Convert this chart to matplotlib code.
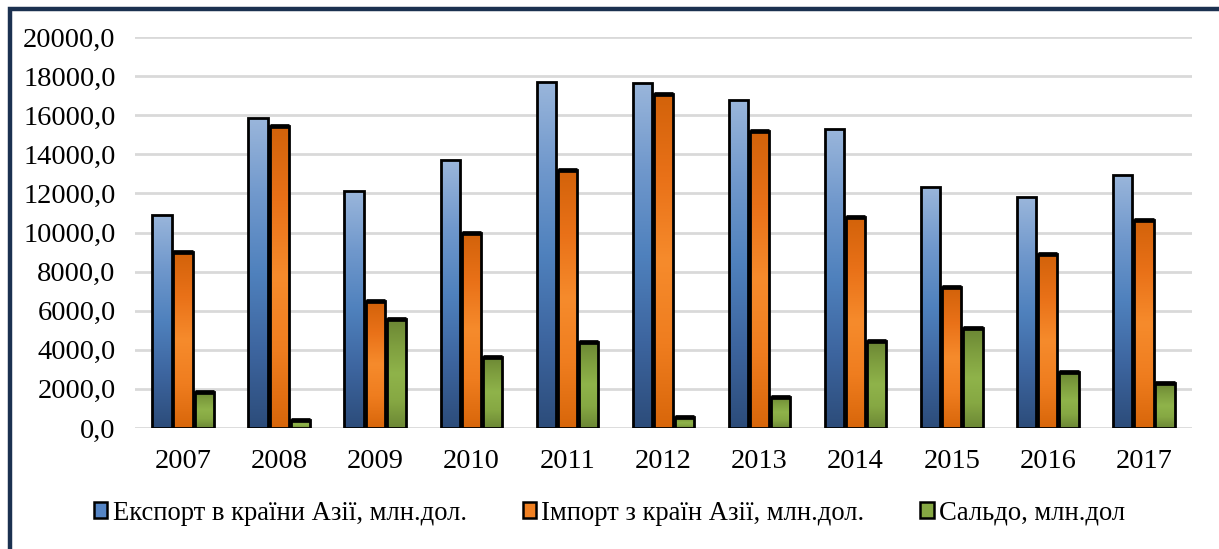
import numpy as np
import matplotlib
matplotlib.use("Agg")
import matplotlib.pyplot as plt
from matplotlib.colors import LinearSegmentedColormap
from matplotlib.patches import Patch, Rectangle
from matplotlib.ticker import FuncFormatter, MultipleLocator

# дані
years = ["2007", "2008", "2009", "2010", "2011", "2012", "2013", "2014", "2015", "2016", "2017"]
export_vals = [10900, 15850, 12100, 13700, 17700, 17650, 16800, 15300, 12350, 11800, 12950]
import_vals = [9000, 15450, 6500, 10000, 13200, 17100, 15200, 10800, 7200, 8900, 10650]
saldo_vals = [1850, 400, 5550, 3650, 4400, 550, 1600, 4450, 5100, 2850, 2300]
labels = ["Експорт в країни Азії, млн.дол.", "Імпорт з країн Азії, млн.дол.", "Сальдо, млн.дол"]

# градієнти (знизу вгору)
grad_blue = ["#2c4c7a", "#3d659f", "#4f81bd", "#7098cc", "#9ab6db"]
grad_orange = ["#d8660a", "#ef7d1f", "#f68b2c", "#e97118", "#d2620a"]
grad_green = ["#6c8735", "#86a843", "#8fb34a", "#7f9f3f", "#6b8634"]
mid_colors = ["#5585c5", "#f08022", "#86a843"]

plt.rcParams['font.family'] = ['Liberation Serif', 'DejaVu Serif']

fig = plt.figure(figsize=(12.19, 5.49), dpi=100)
ax = fig.add_axes([135 / 1219, 121 / 549, 1057 / 1219, 391 / 549])

x = np.arange(len(years))
width = 0.2
offset = 0.22
series = [export_vals, import_vals, saldo_vals]
grads = [grad_blue, grad_orange, grad_green]

for i, (vals, gr) in enumerate(zip(series, grads)):
    cmap = LinearSegmentedColormap.from_list(f"g{i}", gr)
    bars = ax.bar(x + (i - 1) * offset, vals, width, facecolor='none',
                  edgecolor='black', linewidth=2.0, zorder=3)
    for b in bars:
        bx, by = b.get_x(), b.get_y()
        bw, bh = b.get_width(), b.get_height()
        g = np.linspace(0, 1, 256).reshape(-1, 1)
        im = ax.imshow(g, extent=[bx, bx + bw, by, by + bh], origin='lower',
                       aspect='auto', cmap=cmap, zorder=2)
        im.set_clip_path(b)
        if i > 0:
            # темна смуга зверху
            ax.plot([bx, bx + bw], [by + bh, by + bh], color='black',
                    linewidth=3.4, zorder=4, solid_capstyle='butt')

ax.set_xlim(-0.5, len(years) - 0.5)
ax.set_ylim(0, 20000)
ax.yaxis.set_major_locator(MultipleLocator(2000))
ax.yaxis.set_major_formatter(FuncFormatter(lambda v, p: f"{v:.1f}".replace('.', ',')))
ax.set_xticks(x)
ax.set_xticklabels(years)
ax.grid(axis='y', color='#d9d9d9', linewidth=2, zorder=0)
ax.set_axisbelow(True)
for s in ax.spines.values():
    s.set_visible(False)
ax.tick_params(axis='both', length=0, labelsize=20.5, colors='black')
ax.tick_params(axis='y', pad=14)
ax.tick_params(axis='x', pad=15)

handles = [Patch(facecolor=c, edgecolor='black', linewidth=1.8) for c in mid_colors]
fig.legend(handles, labels, loc='center', bbox_to_anchor=(0.5, 36 / 549), ncol=3,
           frameon=False, fontsize=19.2, handlelength=0.5, handleheight=0.5,
           handletextpad=0.2, columnspacing=2.1)

# рамка
fig.patches.append(Rectangle((10 / 1219, -0.1), 1.2, 1.1 - 9.5 / 549, transform=fig.transFigure,
                             fill=False, edgecolor='#1b3150', linewidth=3.2, zorder=10))

fig.savefig("out.png", dpi=100)
